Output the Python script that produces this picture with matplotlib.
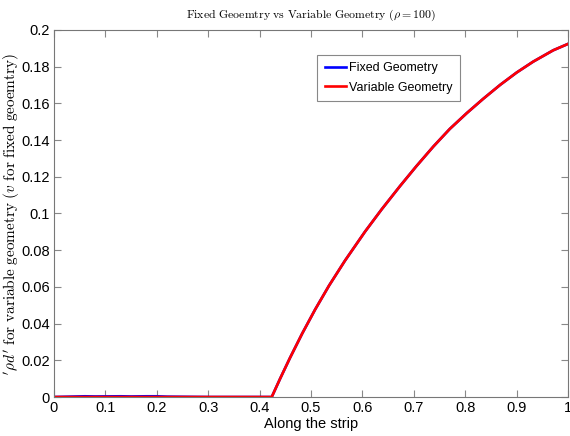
import matplotlib
matplotlib.use("Agg")
import matplotlib.pyplot as plt
from matplotlib.ticker import FormatStrFormatter

# values
x = [0.0, 0.06, 0.08, 0.13, 0.15, 0.18, 0.20, 0.22, 0.30, 0.40, 0.4235,
     0.44, 0.459, 0.483, 0.508, 0.535, 0.566, 0.605, 0.6375, 0.673,
     0.705, 0.738, 0.77, 0.803, 0.835, 0.868, 0.90, 0.932, 0.971, 1.0]
v_fixed = [0.0, 0.0004, 0.0003, 0.0004, 0.0003, 0.0004, 0.0004, 0.0002, 0.0, 0.0, 0.0,
           0.0101, 0.0213, 0.0347, 0.0477, 0.0607, 0.0743, 0.0901, 0.1023, 0.1149,
           0.1258, 0.1365, 0.1461, 0.1547, 0.1625, 0.1701, 0.1768, 0.1827, 0.1889, 0.1924]
rho_var = [0.0, 0.0, 0.0, 0.0, 0.0, 0.0, 0.0, 0.0, 0.0, 0.0, 0.0,
           0.0101, 0.0213, 0.0347, 0.0477, 0.0607, 0.0743, 0.0901, 0.1023, 0.1149,
           0.1258, 0.1365, 0.1461, 0.1547, 0.1625, 0.1701, 0.1768, 0.1827, 0.1889, 0.1924]
xticks = [0, 0.1, 0.2, 0.3, 0.4, 0.5, 0.6, 0.7, 0.8, 0.9, 1.0]
yticks = [0, 0.02, 0.04, 0.06, 0.08, 0.1, 0.12, 0.14, 0.16, 0.18, 0.2]

plt.rcParams['font.family'] = ['Liberation Sans', 'DejaVu Sans']
plt.rcParams['mathtext.fontset'] = 'cm'

fig = plt.figure(figsize=(5.7, 4.36), dpi=100)
ax = fig.add_axes([0.0947, 0.0894, 0.902, 0.842])

ax.plot(x, v_fixed, color='#0000ff', lw=1.9, label='Fixed Geometry')
ax.plot(x, rho_var, color='#ff0000', lw=1.9, label='Variable Geometry')

ax.set_xlim(0, 1)
ax.set_ylim(0, 0.2)
ax.set_xticks(xticks)
ax.set_yticks(yticks)
ax.xaxis.set_major_formatter(FormatStrFormatter('%g'))
ax.yaxis.set_major_formatter(FormatStrFormatter('%g'))
ax.tick_params(direction='in', top=True, right=True, length=5, width=0.8,
               color='#888888', labelsize=10.5, pad=3)
for s in ax.spines.values():
    s.set_color('#777777')
    s.set_linewidth(0.8)

ax.set_title(r'$\mathrm{Fixed\ Geoemtry\ vs\ Variable\ Geometry\ }(\rho = 100)$',
             fontsize=8.5, pad=9)
ax.set_xlabel('Along the strip', fontsize=10.5, labelpad=1)
ax.set_ylabel(r"$'\rho d'\ \mathrm{for\ variable\ geometry\ }(v\ \mathrm{for\ fixed\ geoemtry})$",
              fontsize=11)
ax.yaxis.set_label_coords(-0.062, 0.5)

leg = ax.legend(loc='upper left', bbox_to_anchor=(0.50, 0.95), fontsize=9,
                handlelength=1.7, handletextpad=0.2, borderpad=0.6,
                labelspacing=0.6, fancybox=False, framealpha=1)
leg.get_frame().set_edgecolor('#888888')
leg.get_frame().set_linewidth(0.8)

fig.savefig('out.png', dpi=100)
